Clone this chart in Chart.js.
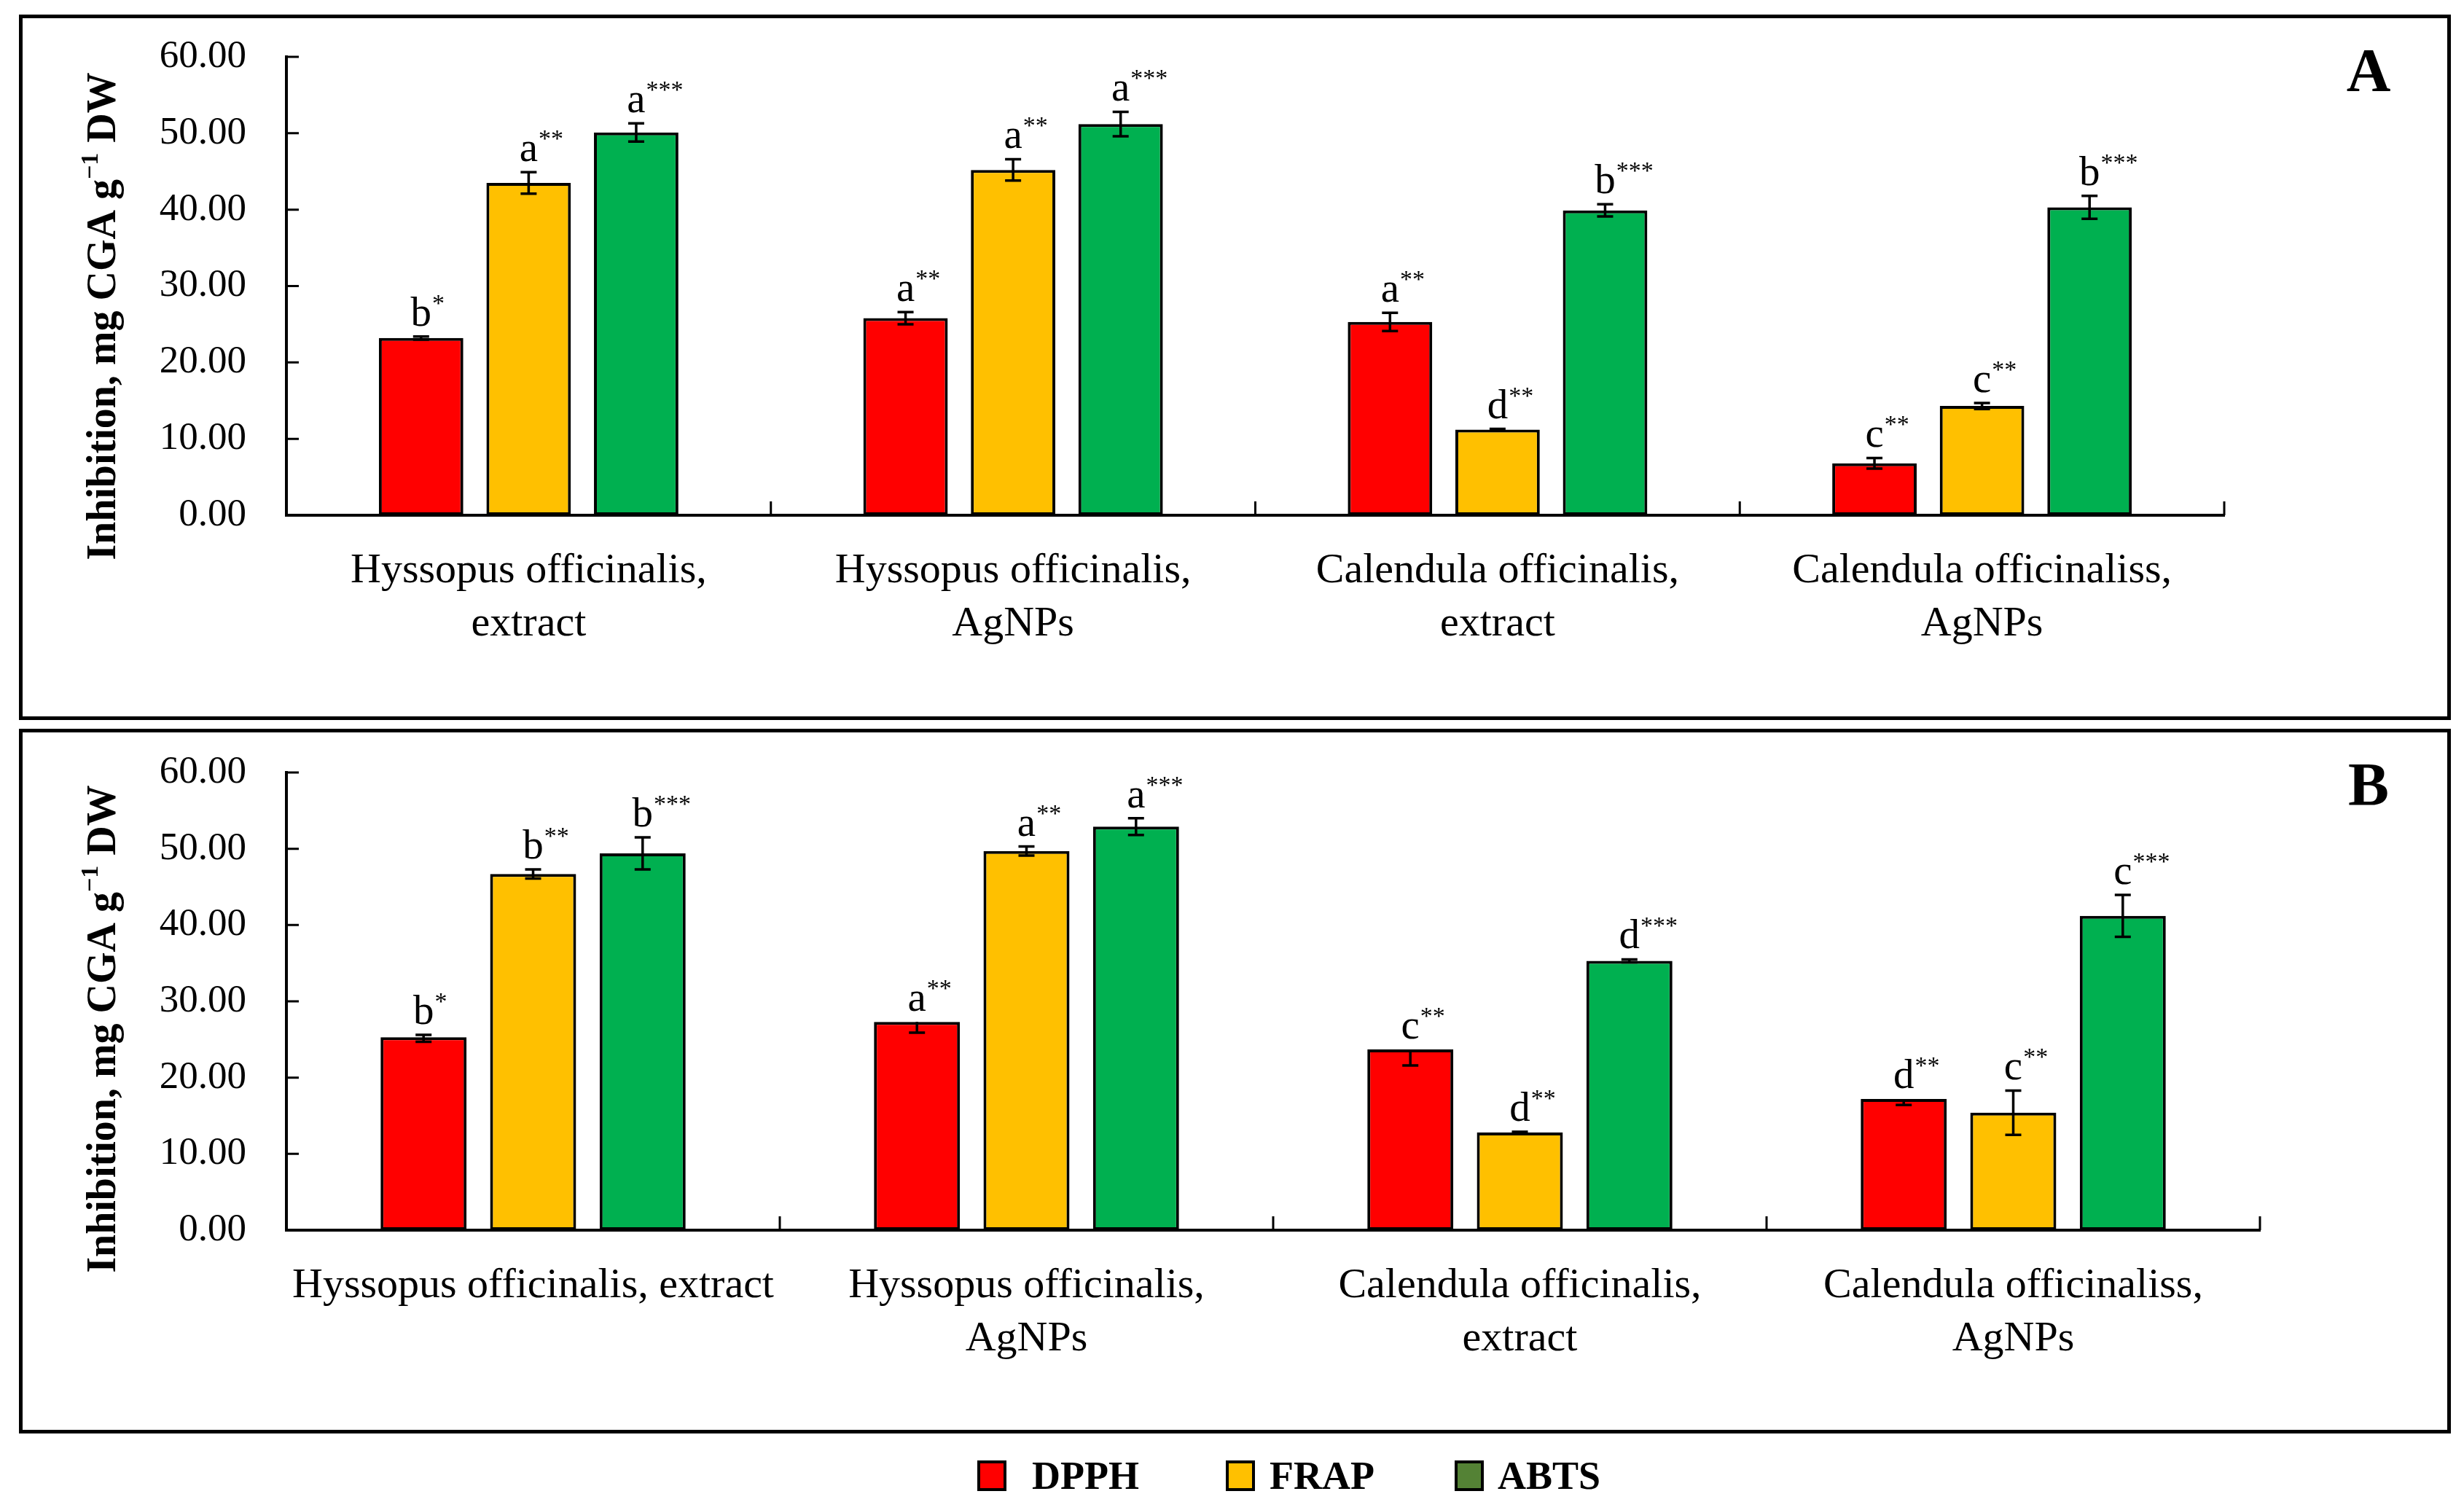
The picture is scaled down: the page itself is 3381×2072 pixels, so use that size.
<!DOCTYPE html>
<html lang="en">
<head>
<meta charset="UTF-8">
<title>Antioxidant activity, DPPH / FRAP / ABTS</title>
<script src="https://cdn.jsdelivr.net/npm/chart.js"></script>
<style>
  body { margin: 0; background: #fff; width: 3381px; height: 2072px; position: relative; overflow: hidden; font-family: "Liberation Serif", serif; }
  .frame { position: absolute; border: 5px solid #000; box-sizing: border-box; }
  canvas { position: absolute; left: 0; }
  .box { position: absolute; top: 2004px; width: 40px; height: 42px; border: 4px solid #000; box-sizing: border-box; }
  .ltext { position: absolute; top: 1998px; font-weight: bold; font-size: 54px; line-height: 54px; }
</style>
</head>
<body>
<div class="frame" style="left:26px; top:20px; width:3337px; height:968px;"></div>
<div class="frame" style="left:26px; top:1000px; width:3337px; height:967px;"></div>
<canvas id="chartA" width="3381" height="1000"></canvas>
<canvas id="chartB" width="3381" height="1000"></canvas>
<div id="legend"></div>

<script>
// ---- data ----
const seriesNames = ['DPPH', 'FRAP', 'ABTS'];
const barColors = ['#FF0000', '#FFC000', '#00B050'];
const legendColors = ['#FF0000', '#FFC000', '#548235'];
const yTicks = [0, 10, 20, 30, 40, 50, 60];

// panel A
const categoriesA = [
    ['Hyssopus officinalis,', 'extract'],
    ['Hyssopus officinalis,', 'AgNPs'],
    ['Calendula officinalis,', 'extract'],
    ['Calendula officinaliss,', 'AgNPs']
];
const dpphA = [23.2, 25.8, 25.3, 6.8];
const frapA = [43.5, 45.2, 11.2, 14.3];
const abtsA = [50.1, 51.2, 39.9, 40.3];
const dpphErrA = [0.2, 0.8, 1.2, 0.7];
const frapErrA = [1.4, 1.4, 0.1, 0.4];
const abtsErrA = [1.2, 1.6, 0.8, 1.5];
const dpphSigA = ['b*', 'a**', 'a**', 'c**'];
const frapSigA = ['a**', 'a**', 'd**', 'c**'];
const abtsSigA = ['a***', 'a***', 'b***', 'b***'];

// panel B
const categoriesB = [
    'Hyssopus officinalis, extract',
    ['Hyssopus officinalis,', 'AgNPs'],
    ['Calendula officinalis,', 'extract'],
    ['Calendula officinaliss,', 'AgNPs']
];
const dpphB = [25.3, 27.3, 23.7, 17.2];
const frapB = [46.7, 49.7, 12.8, 15.4];
const abtsB = [49.4, 52.9, 35.3, 41.2];
const dpphErrUpB = [0.3, 0, 0, 0];
const dpphErrDownB = [0.6, 1.4, 2.1, 0.8];
const frapErrB = [0.6, 0.6, 0.1, 2.9];
const abtsErrB = [2.1, 1.1, 0.2, 2.75];
const dpphSigB = ['b*', 'a**', 'c**', 'd**'];
const frapSigB = ['b**', 'a**', 'd**', 'c**'];
const abtsSigB = ['b***', 'a***', 'd***', 'c***'];

const FONT = '"Liberation Serif", serif';
const PAD_TOP = 90;      // fixed top padding inside each canvas
const X_AXIS_H = 200;    // height reserved for category labels

// letter + superscript stars over each bar
function drawSig(ctx, text, x, baseline) {
    const letter = text[0];
    const stars = text.slice(1);
    ctx.font = '57px ' + FONT;
    const w = ctx.measureText(letter).width;
    ctx.textAlign = 'left';
    ctx.textBaseline = 'alphabetic';
    ctx.fillText(letter, x - w / 2, baseline);
    ctx.font = '34px ' + FONT;
    ctx.fillText(stars, x + w / 2 + 1, baseline - 20);
}

// error bars, letters, inside tick marks, axis title, panel letter
const extrasPlugin = {
    id: 'extras',
    afterDatasetsDraw(chart) {
        const ctx = chart.ctx;
        const y = chart.scales.y;
        ctx.save();
        ctx.strokeStyle = '#000';
        ctx.fillStyle = '#000';
        chart.data.datasets.forEach((ds, i) => {
            const meta = chart.getDatasetMeta(i);
            meta.data.forEach((bar, j) => {
                const v = ds.data[j];
                const up = ds.errUp[j], down = ds.errDown[j];
                const yTop = y.getPixelForValue(v + up);
                const yBot = y.getPixelForValue(v - down);
                ctx.lineWidth = 3.5;
                ctx.beginPath();
                ctx.moveTo(bar.x, yTop); ctx.lineTo(bar.x, yBot);
                if (up > 0) { ctx.moveTo(bar.x - 11, yTop); ctx.lineTo(bar.x + 11, yTop); }
                ctx.moveTo(bar.x - 11, yBot); ctx.lineTo(bar.x + 11, yBot);
                ctx.stroke();
                drawSig(ctx, ds.sig[j], bar.x, Math.min(yTop, bar.y) - 15);
            });
        });
        ctx.restore();
    },
    afterDraw(chart, args, opts) {
        const ctx = chart.ctx;
        const a = chart.chartArea;
        const y = chart.scales.y;
        const n = chart.data.labels.length;
        ctx.save();
        ctx.strokeStyle = '#000';
        ctx.lineWidth = 3;
        ctx.beginPath();
        y.ticks.forEach((t, i) => {
            const py = y.getPixelForTick(i);
            ctx.moveTo(a.left, py); ctx.lineTo(a.left + 17, py);
        });
        for (let i = 1; i <= n; i++) {
            const px = a.left + i * (a.right - a.left) / n;
            ctx.moveTo(px, a.bottom); ctx.lineTo(px, a.bottom - 19);
        }
        ctx.stroke();

        // rotated axis title with superscript
        ctx.fillStyle = '#000';
        ctx.translate(158, opts.titleCenter - opts.offset);
        ctx.rotate(-Math.PI / 2);
        ctx.textBaseline = 'alphabetic';
        ctx.textAlign = 'left';
        const big = 'bold 56px ' + FONT, small = 'bold 34px ' + FONT;
        const parts = [['Inhibition, mg CGA g', big, 0], ['\u22121', small, -24], [' DW', big, 0]];
        let total = 0;
        parts.forEach(p => { ctx.font = p[1]; total += ctx.measureText(p[0]).width; });
        let cx = -total / 2;
        parts.forEach(p => {
            ctx.font = p[1];
            ctx.fillText(p[0], cx, p[2]);
            cx += ctx.measureText(p[0]).width;
        });
        ctx.restore();

        ctx.save();
        ctx.font = 'bold 84px ' + FONT;
        ctx.textAlign = 'center';
        ctx.textBaseline = 'alphabetic';
        ctx.fillStyle = '#000';
        ctx.fillText(opts.panel, 3250, opts.panelBaseline - opts.offset);
        ctx.restore();
    }
};

// area is given in page pixels; the canvas is shifted so its chart area lands there
function makeChart(id, labels, values, errUp, errDown, sigs, area, extras) {
    const canvas = document.getElementById(id);
    const offset = area.top - PAD_TOP;
    canvas.style.top = offset + 'px';
    canvas.style.width = canvas.width + 'px';
    canvas.style.height = canvas.height + 'px';
    extras.offset = offset;
    const datasets = seriesNames.map((name, i) => ({
        label: name,
        data: values[i],
        errUp: errUp[i],
        errDown: errDown[i],
        sig: sigs[i],
        backgroundColor: barColors[i],
        borderColor: '#000',
        borderWidth: 4,
        borderSkipped: false,
        categoryPercentage: 0.666,
        barPercentage: 0.785
    }));
    return new Chart(canvas.getContext('2d'), {
        type: 'bar',
        data: { labels: labels, datasets: datasets },
        options: {
            responsive: false,
            devicePixelRatio: 1,
            animation: false,
            layout: { padding: { left: 0, right: 3381 - area.right, top: PAD_TOP, bottom: canvas.height - (area.bottom - offset) - X_AXIS_H } },
            plugins: { legend: { display: false }, tooltip: { enabled: false }, extras: extras },
            scales: {
                x: {
                    type: 'category',
                    offset: true,
                    grid: { display: false, drawTicks: false },
                    border: { display: true, color: '#000', width: 4 },
                    ticks: {
                        color: '#000',
                        font: { family: FONT, size: 58, lineHeight: 1.26 },
                        padding: 40,
                        maxRotation: 0, minRotation: 0, autoSkip: false
                    },
                    afterFit: s => { s.height = X_AXIS_H; }
                },
                y: {
                    min: yTicks[0],
                    max: yTicks[yTicks.length - 1],
                    grid: { display: false, drawTicks: false },
                    border: { display: true, color: '#000', width: 4 },
                    afterBuildTicks: s => { s.ticks = yTicks.map(v => ({ value: v })); },
                    ticks: {
                        color: '#000',
                        font: { family: FONT, size: 53 },
                        padding: 55,
                        callback: v => Number(v).toFixed(2)
                    },
                    afterFit: s => { s.width = 393; }
                }
            }
        },
        plugins: [extrasPlugin]
    });
}

makeChart('chartA', categoriesA,
    [dpphA, frapA, abtsA],
    [dpphErrA, frapErrA, abtsErrA],
    [dpphErrA, frapErrA, abtsErrA],
    [dpphSigA, frapSigA, abtsSigA],
    { top: 78, bottom: 707, right: 3052 },
    { titleCenter: 434, panel: 'A', panelBaseline: 125 });

makeChart('chartB', categoriesB,
    [dpphB, frapB, abtsB],
    [dpphErrUpB, frapErrB, abtsErrB],
    [dpphErrDownB, frapErrB, abtsErrB],
    [dpphSigB, frapSigB, abtsSigB],
    { top: 1060, bottom: 1688, right: 3101 },
    { titleCenter: 1412, panel: 'B', panelBaseline: 1105 });

// legend below both panels
const legendBoxLeft = [1341, 1682, 1996];
const legendTextLeft = [1416, 1742, 2055];
const legend = document.getElementById('legend');
seriesNames.forEach((name, i) => {
    const box = document.createElement('div');
    box.className = 'box';
    box.style.left = legendBoxLeft[i] + 'px';
    box.style.background = legendColors[i];
    const label = document.createElement('div');
    label.className = 'ltext';
    label.style.left = legendTextLeft[i] + 'px';
    label.textContent = name;
    legend.appendChild(box);
    legend.appendChild(label);
});
</script>
</body>
</html>
